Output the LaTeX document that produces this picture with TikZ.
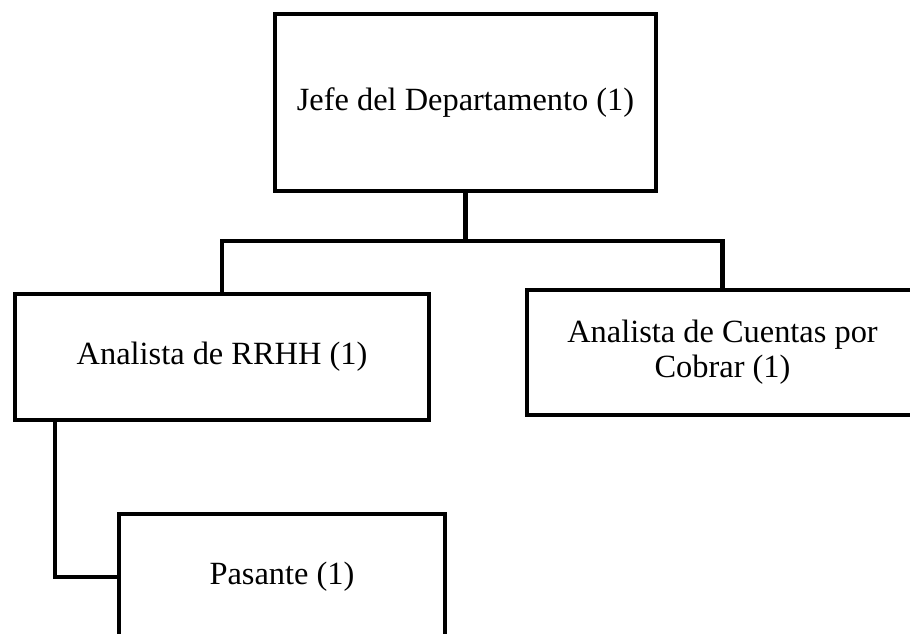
\documentclass[tikz,border=0pt]{standalone}
\usepackage{fontspec}
\setmainfont{Liberation Serif}
\usepackage{tikz}

\begin{document}
\begin{tikzpicture}[x=0.5pt, y=-0.5pt, line width=2.2pt,
                    puesto/.style = {draw, rectangle, inner sep=0pt, outer sep=0pt, align=center,
                                     font=\fontsize{16.2}{17.6}\selectfont}]
                    \useasboundingbox (0,0) rectangle (910,633);
                    \clip (0,0) rectangle (910,633);

                    \node[puesto, minimum width=190.5pt, minimum height=88.5pt] (jefe) at (465.5,102.5) {Jefe del Departamento (1)};
                    \node[puesto, minimum width=207pt, minimum height=63pt] (rrhh) at (222,357) {Analista de RRHH (1)};
                    \node[puesto, minimum width=195.5pt, minimum height=62.5pt] (cuentas) at (722.5,352.5) {Analista de Cuentas por\\Cobrar (1)};
                    \node[puesto, minimum width=163pt, minimum height=63pt] (pasante) at (282,577) {Pasante (1)};

                    \draw (jefe.south) -- ++(0,50) coordinate (rama);
                    \draw (rama) -| (rrhh.north);
                    \draw (rama) -| (cuentas.north);
                    \draw (rrhh.south west) ++(40,0) |- (pasante.west);
                \end{tikzpicture}
\end{document}
